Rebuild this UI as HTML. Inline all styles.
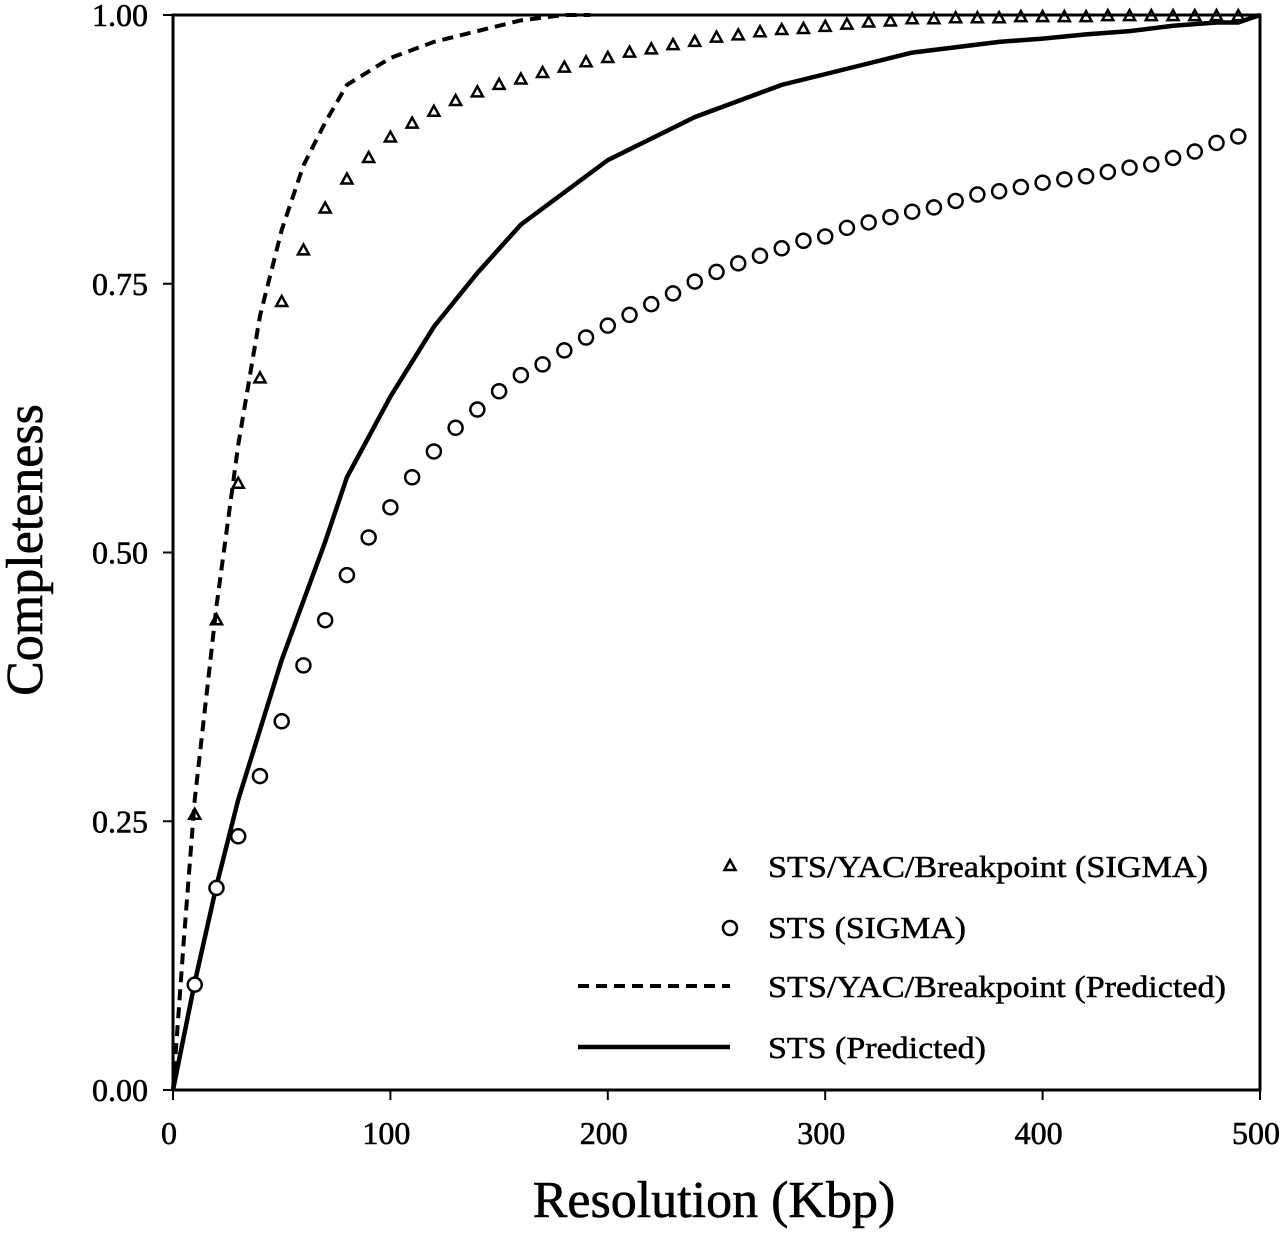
<!DOCTYPE html>
<html><head><meta charset="utf-8"><style>
html,body{margin:0;padding:0;background:#fff;}
svg{display:block;font-family:"Liberation Serif",serif;}
</style></head><body>
<svg id="chart" width="1280" height="1234" viewBox="0 0 1280 1234"></svg>
<script>
const triX=[10,20,30,40,50,60,70,80,90,100,110,120,130,140,150,160,170,180,190,200,210,220,230,240,250,260,270,280,290,300,310,320,330,340,350,360,370,380,390,400,410,420,430,440,450,460,470,480,490];
const triY=[0.256,0.437,0.564,0.662,0.733,0.781,0.82,0.847,0.867,0.886,0.899,0.91,0.92,0.928,0.935,0.94,0.946,0.951,0.956,0.96,0.965,0.968,0.972,0.975,0.979,0.981,0.984,0.986,0.987,0.989,0.991,0.993,0.994,0.996,0.996,0.997,0.997,0.997,0.998,0.998,0.998,0.998,0.999,0.999,0.999,0.999,0.999,0.999,0.999];
const cirX=triX.slice();
const cirY=[0.098,0.188,0.236,0.292,0.343,0.395,0.437,0.479,0.514,0.542,0.57,0.594,0.616,0.633,0.65,0.665,0.675,0.688,0.7,0.711,0.721,0.731,0.741,0.752,0.761,0.769,0.776,0.783,0.79,0.794,0.802,0.807,0.812,0.817,0.821,0.827,0.833,0.836,0.84,0.844,0.847,0.85,0.854,0.858,0.861,0.867,0.873,0.881,0.887];
const dashX=[0,5,10,20,30,40,50,60,70,80,100,120,140,160,180,192];
const dashY=[0,0.14,0.27,0.45,0.6,0.72,0.8,0.86,0.9,0.935,0.96,0.975,0.985,0.995,1,1];
const solX=[0,10,20,30,40,50,60,70,80,100,120,140,160,180,200,220,240,260,280,300,320,340,360,380,400,420,440,460,480,490,500];
const solY=[0,0.1,0.19,0.27,0.335,0.4,0.455,0.51,0.57,0.645,0.71,0.76,0.805,0.835,0.865,0.885,0.905,0.92,0.935,0.945,0.955,0.965,0.97,0.975,0.978,0.982,0.985,0.99,0.993,0.993,1.0];
const xTicks=[0,100,200,300,400,500];
const yTicks=[0,0.25,0.5,0.75,1];
const yTickLabels=["0.00","0.25","0.50","0.75","1.00"];

const X0=173,X1=1260,Y0=1090,Y1=15;
const sx=v=>X0+(X1-X0)*v/500;
const sy=v=>Y0-(Y0-Y1)*v;
const NS="http://www.w3.org/2000/svg";
const svg=document.getElementById('chart');
function mk(t,a){const e=document.createElementNS(NS,t);for(const k in a)e.setAttribute(k,a[k]);svg.appendChild(e);return e;}

let f=mk('rect',{x:X0,y:Y1,width:X1-X0,height:Y0-Y1,fill:'none',stroke:'#000','stroke-width':3});



xTicks.forEach(v=>{
 let l=mk('line',{x1:sx(v),x2:sx(v),y1:Y0,y2:Y0+10,stroke:'#000','stroke-width':2});
 
 
 let t=mk('text',{x:sx(v)-4,y:Y0+54,'text-anchor':'middle','font-size':32,stroke:'#000','stroke-width':0.6});
 t.textContent=v;
 
 
});
yTicks.forEach((v,i)=>{
 let l=mk('line',{x1:X0-10,x2:X0,y1:sy(v),y2:sy(v),stroke:'#000','stroke-width':2});
 
 
 let t=mk('text',{x:X0-25,y:sy(v)+11,'text-anchor':'end','font-size':32,stroke:'#000','stroke-width':0.6});
 t.textContent=yTickLabels[i];
 
 
});
let xt=mk('text',{x:714,y:1217,'text-anchor':'middle','font-size':52,stroke:'#000','stroke-width':0.6});
xt.textContent='Resolution (Kbp)';


let yt=mk('text',{x:0,y:0,'text-anchor':'middle','font-size':52,stroke:'#000','stroke-width':0.6,transform:'translate(42,550) rotate(-90)'});
yt.textContent='Completeness';



function line(xs,ys,dash,name){
 let d=xs.map((x,i)=>(i?'L':'M')+sx(x)+','+sy(ys[i])).join(' ');
 let p=mk('path',{d:d,fill:'none',stroke:'#000','stroke-width':dash?4:4.5});
 if(dash)p.setAttribute('stroke-dasharray','11,7');
 
 
}
line(dashX,dashY,true,'predicted-sts-yac-line');
line(solX,solY,false,'predicted-sts-line');

function tri(cx,cy){return mk('polygon',{points:`${cx},${cy-6} ${cx-5.5},${cy+4} ${cx+5.5},${cy+4}`,fill:'none',stroke:'#000','stroke-width':2.5});}
triX.forEach((x,i)=>{
 let p=tri(sx(x),sy(triY[i]));
 
 
});
cirX.forEach((x,i)=>{
 let c=mk('circle',{cx:sx(x),cy:sy(cirY[i]),r:7,fill:'#fff',stroke:'#000','stroke-width':2.5});
 
 
});

// legend
let g1=tri(730,866);
let g2=mk('circle',{cx:730,cy:928,r:7,fill:'#fff',stroke:'#000','stroke-width':2.5});

let g3=mk('line',{x1:578,x2:730,y1:986,y2:986,stroke:'#000','stroke-width':4,'stroke-dasharray':'11,7'});

let g4=mk('line',{x1:578,x2:730,y1:1047,y2:1047,stroke:'#000','stroke-width':4.5});

const legTxt=['STS/YAC/Breakpoint (SIGMA)','STS (SIGMA)','STS/YAC/Breakpoint (Predicted)','STS (Predicted)'];
const legW=[440,198,458,218];
const legY=[877,938,997,1058];
legTxt.forEach((s,i)=>{
 let t=mk('text',{x:768,y:legY[i],'font-size':31,stroke:'#000','stroke-width':0.5,textLength:legW[i],lengthAdjust:'spacingAndGlyphs'});
 t.textContent=s;
 
 
});
</script>
</body></html>
